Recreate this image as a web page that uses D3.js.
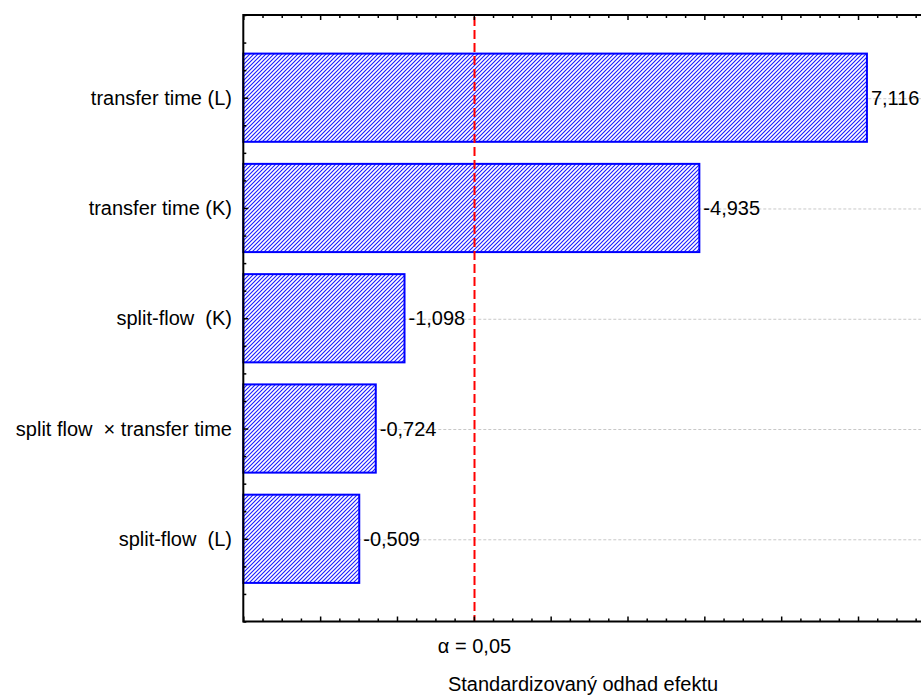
<!DOCTYPE html>
<html>
<head>
<meta charset="utf-8">
<script src="https://cdn.jsdelivr.net/npm/d3@7.9.0/dist/d3.min.js"></script>
<style>
  html, body { margin: 0; padding: 0; background: #fff; }
  svg text { font-family: "Liberation Sans", Arial, sans-serif; white-space: pre; }
</style>
</head>
<body>
<svg id="chart" width="921" height="695"></svg>
<script>
// Pareto chart of standardized effects
const factors = [
  'transfer time (L)',
  'transfer time (K)',
  'split-flow  (K)',
  'split flow  \u00d7 transfer time',
  'split-flow  (L)'
];
const effects = [7.116, -4.935, -1.098, -0.724, -0.509];
const critValue = 2.009;
const critLabel = '\u03b1 = 0,05';
const xTitle = 'Standardizovaný odhad efektu';

const svg = d3.select('#chart');
const plotLeft = 243.3, plotTop = 15, plotBottom = 621.5;

const x = d3.scaleLinear().domain([-1, 8]).range([plotLeft, plotLeft + 9 * 76.84]);
const y = d3.scaleLinear().domain([0.25, 5.75]).range([plotTop, plotBottom]);

const locale = d3.formatLocale({
  decimal: ',', thousands: ' ', grouping: [3], currency: ['', ''], minus: '-'
});
const fmt = locale.format('.3f');

// hatch fill (dotted blue diagonals)
const pat = svg.append('defs').append('pattern')
  .attr('id', 'hatch')
  .attr('patternUnits', 'userSpaceOnUse')
  .attr('width', 4).attr('height', 4);
pat.append('rect').attr('width', 4).attr('height', 4).attr('fill', '#ffffff');
pat.append('path')
  .attr('d', 'M0,4L4,0M-1,1L1,-1M3,5L5,3')
  .attr('stroke', '#1a1aff')
  .attr('stroke-width', 1.1);

const rows = factors.map((f, i) => ({ name: f, value: effects[i], pos: i + 1 }));

// gridlines
svg.append('g').selectAll('line')
  .data(rows)
  .join('line')
  .attr('x1', plotLeft).attr('x2', 921)
  .attr('y1', (d) => y(d.pos) + 1).attr('y2', (d) => y(d.pos) + 1)
  .attr('stroke', '#c8c8c8')
  .attr('stroke-width', 1)
  .attr('stroke-dasharray', '3,2');

// bars
svg.append('g').selectAll('rect')
  .data(rows)
  .join('rect')
  .attr('x', x(-1))
  .attr('y', (d) => y(d.pos - 0.4))
  .attr('width', (d) => x(Math.abs(d.value)) - x(-1))
  .attr('height', (d) => y(d.pos + 0.4) - y(d.pos - 0.4))
  .attr('fill', 'url(#hatch)')
  .attr('stroke', '#0000ff')
  .attr('stroke-width', 2);

// value labels
svg.append('g').selectAll('text')
  .data(rows)
  .join('text')
  .attr('x', (d) => x(Math.abs(d.value)) + 4)
  .attr('y', (d) => y(d.pos) + 7)
  .attr('font-size', 20)
  .text((d) => fmt(d.value));

// category labels
svg.append('g').selectAll('text')
  .data(rows)
  .join('text')
  .attr('x', 232)
  .attr('y', (d) => y(d.pos) + 7)
  .attr('text-anchor', 'end')
  .attr('font-size', 20)
  .text((d) => d.name);

// critical value line
svg.append('line')
  .attr('x1', x(critValue)).attr('x2', x(critValue))
  .attr('y1', plotTop + 2).attr('y2', plotBottom)
  .attr('stroke', '#ff0000')
  .attr('stroke-width', 2)
  .attr('stroke-dasharray', '9,4');

svg.append('text')
  .attr('x', x(critValue))
  .attr('y', 653)
  .attr('text-anchor', 'middle')
  .attr('font-size', 20)
  .text(critLabel);

// axes
const minorX = d3.range(-1, 8.01, 0.25);
const yTicks = d3.range(0.25, 5.76, 0.25);

const topAxis = d3.axisTop(x).tickValues(minorX).tickSize(-3).tickFormat('');
const botAxis = d3.axisBottom(x).tickValues(minorX).tickSize(-3).tickFormat('');
const leftAxis = d3.axisLeft(y).tickValues(yTicks).tickSize(-3).tickFormat('');

function styleAxis(g, majorTest) {
  g.select('.domain').remove();
  g.selectAll('.tick line')
    .attr('stroke', '#000')
    .attr('stroke-width', 1.5)
    .each(function (d) {
      if (majorTest(d)) {
        const l = d3.select(this);
        ['x2', 'y2'].forEach((a) => {
          const v = +l.attr(a);
          if (v) l.attr(a, v > 0 ? 5 : -5);
        });
      }
    });
}

const isWhole = (d) => Math.abs(d - Math.round(d)) < 1e-6;

svg.append('g').attr('transform', `translate(0,${plotTop})`).call(topAxis)
  .call((g) => styleAxis(g, isWhole));
svg.append('g').attr('transform', `translate(0,${plotBottom})`).call(botAxis)
  .call((g) => styleAxis(g, isWhole));
svg.append('g').attr('transform', `translate(${plotLeft},0)`).call(leftAxis)
  .call((g) => styleAxis(g, isWhole));

// frame lines
svg.append('path')
  .attr('d', `M921,${plotTop}H${plotLeft}V${plotBottom}H921`)
  .attr('fill', 'none')
  .attr('stroke', '#000')
  .attr('stroke-width', 2);

svg.append('text')
  .attr('x', 583)
  .attr('y', 691)
  .attr('text-anchor', 'middle')
  .attr('font-size', 20)
  .text(xTitle);
</script>
</body>
</html>
